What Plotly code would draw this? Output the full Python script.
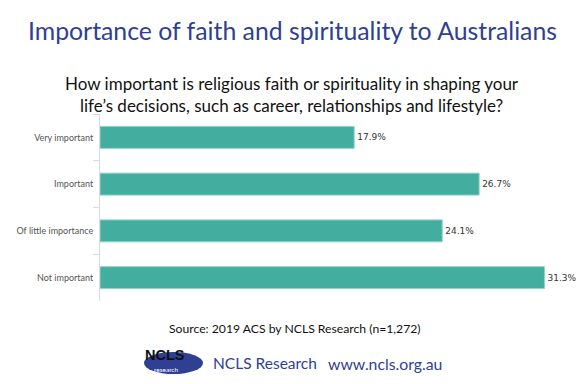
import plotly.graph_objects as go

categories = ["Very important", "Important", "Of little importance", "Not important"]
values = [17.9, 26.7, 24.1, 31.3]

title = "Importance of faith and spirituality to Australians"
subtitle = "How important is religious faith or spirituality in shaping your<br>life’s decisions, such as career, relationships and lifestyle?"
source = "Source: 2019 ACS by NCLS Research (n=1,272)"

W, H = 583, 384
L, R, T, B = 100, 13, 114, 83
PW, PH = W - L - R, H - T - B

def px(x):
    return (x - L) / PW

def py(y):
    return (H - B - y) / PH

fig = go.Figure(go.Bar(
    y=categories, x=values, orientation="h",
    marker=dict(color="#43AEA0", line=dict(color="#8FD3C8", width=1)),
    width=0.47,
    texttemplate="%{x:.1f}%", textposition="outside",
    textfont=dict(family="DejaVu Sans", size=9, color="#333333"),
    cliponaxis=False,
))

fig.update_layout(
    width=W, height=H,
    margin=dict(l=L, r=R, t=T, b=B),
    plot_bgcolor="white", paper_bgcolor="white",
    showlegend=False,
    xaxis=dict(range=[0, PW / 14.2], visible=False),
    yaxis=dict(autorange="reversed", showline=True, linecolor="#D5DAE8", linewidth=1,
               ticks="outside", tickson="boundaries", ticklen=6, tickcolor="#D5DAE8",
               showgrid=False, ticklabelstandoff=4,
               tickfont=dict(family="Lato", size=9, color="#555555")),
)

ann = [
    dict(text=title, x=px(292), y=py(30), font=dict(family="Lato", size=24.8, color="#2E3F94")),
    dict(text=subtitle, x=px(292), y=py(94), font=dict(family="Lato", size=17, color="#111111")),
    dict(text=source, x=px(295), y=py(328), font=dict(family="Lato", size=12.2, color="#111111")),
    dict(text="NCLS Research", x=px(265), y=py(363), font=dict(family="Lato", size=15.5, color="#2E3F94")),
    dict(text="www.ncls.org.au", x=px(385), y=py(363), font=dict(family="Lato", size=15.8, color="#2E3F94")),
    dict(text="<b>NCLS</b>", x=px(165), y=py(355), font=dict(family="Liberation Sans Narrow, Liberation Sans", size=14.5, color="#111111")),
    dict(text="research", x=px(166), y=py(369), font=dict(family="Lato", size=6.5, color="#FFFFFF")),
]
for a in ann:
    a.update(xref="paper", yref="paper", showarrow=False, xanchor="center", yanchor="middle")
fig.update_layout(annotations=ann)

fig.add_shape(type="circle", xref="paper", yref="paper",
              x0=px(144), x1=px(203), y0=py(374), y1=py(352),
              fillcolor="#2E3F94", line=dict(width=0), layer="below")

fig.write_html("out.html", config={"displayModeBar": False},
               post_script="document.body.style.margin='0';")
